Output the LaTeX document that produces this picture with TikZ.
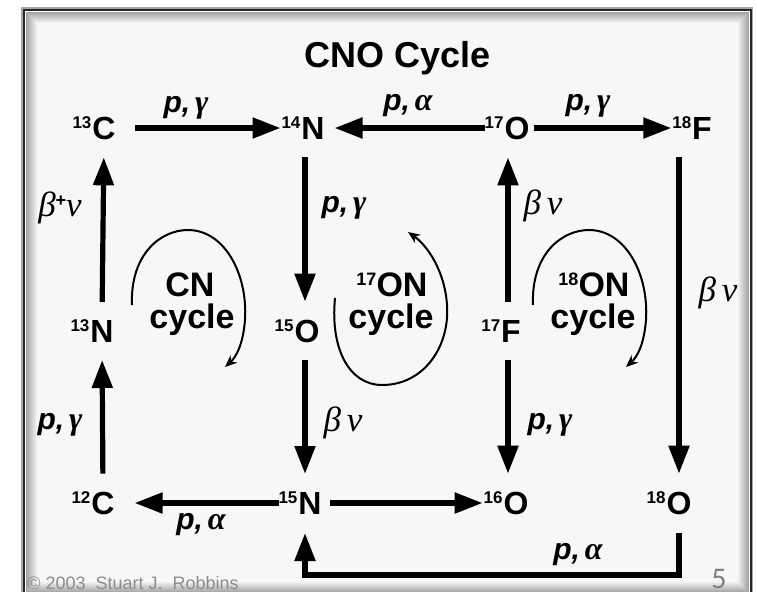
\documentclass[tikz,border=0pt]{standalone}
\usepackage{fontspec}
\setmainfont{Liberation Sans}
\newfontfamily\grk{Liberation Serif}
\newfontfamily\calib{Carlito}
\usetikzlibrary{arrows.meta}
\newcommand{\pg}{{\bfseries\itshape p,}\,{\grk\bfseries\itshape\fontsize{16}{16}\selectfont γ}}
\newcommand{\pa}{{\bfseries\itshape p,}\,{\grk\bfseries\itshape\fontsize{16}{16}\selectfont α}}
\newcommand{\bn}{{\grk\itshape\fontsize{17.5}{17.5}\selectfont β\,ν}}
\newcommand{\bpn}{{\grk\itshape\fontsize{17.5}{17.5}\selectfont β}\raisebox{5pt}{\fontsize{9}{9}\selectfont\bfseries +}{\grk\itshape\fontsize{17.5}{17.5}\selectfont ν}}
\newcommand{\cycsup}[1]{\raisebox{5.8pt}{\fontsize{9}{9}\selectfont #1}}
\begin{document}
\begin{tikzpicture}[x=0.5pt,y=-0.5pt,
  el/.style={font=\fontsize{16}{16}\selectfont\bfseries, inner sep=0pt, outer sep=0pt},
  sup/.style={font=\fontsize{8.5}{8.5}\selectfont\bfseries, inner sep=0pt, outer sep=0pt, anchor=north east},
  lab/.style={font=\fontsize{15}{15}\selectfont, inner sep=0pt},
  arr/.style={line width=2.6pt, -{Triangle[length=14pt,width=10pt]}},
  vshort/.style={shorten <=9pt, shorten >=9pt},
  cyc/.style={line width=1pt, -{Stealth[length=6pt,width=5pt]}},
  cyctext/.style={font=\fontsize{17}{17}\selectfont\bfseries, inner sep=0pt},
  title/.style={font=\fontsize{18}{18}\selectfont\bfseries, inner sep=0pt}]
\useasboundingbox (0,0) rectangle (757,591);
\clip (0,0) rectangle (757,591);
% frame
\fill[white] (0,0) rectangle (757,591);
\fill[gray!70] (21,7) rectangle (753,600);
\fill[black!85] (22.5,8.5) rectangle (751.5,600);
\fill[white] (24.5,10.5) rectangle (749.5,596);
\foreach \i in {0,...,11} {
  \pgfmathtruncatemacro\c{36-3*\i}
  \fill[black!\c] (25.5+\i,11.5+\i) rectangle (748.5-\i,593-\i);
}
% title
\node[title] (title) at (398,58) {CNO Cycle};
% isotopes
\node[el] (C13) at (104,128) {C};
\node[sup] (sC13) at ([xshift=-0.5pt]C13.north west) {13};
\node[el] (N14) at (313,128) {N};
\node[sup] (sN14) at ([xshift=-0.5pt]N14.north west) {14};
\node[el] (O17) at (517,128) {O};
\node[sup] (sO17) at ([xshift=-0.5pt]O17.north west) {17};
\node[el] (F18) at (702,128) {F};
\node[sup] (sF18) at ([xshift=-0.5pt]F18.north west) {18};
\node[el] (N13) at (102,331) {N};
\node[sup] (sN13) at ([xshift=-0.5pt]N13.north west) {13};
\node[el] (O15) at (307,331) {O};
\node[sup] (sO15) at ([xshift=-0.5pt]O15.north west) {15};
\node[el] (F17) at (511,331) {F};
\node[sup] (sF17) at ([xshift=-0.5pt]F17.north west) {17};
\node[el] (C12) at (103,503) {C};
\node[sup] (sC12) at ([xshift=-0.5pt]C12.north west) {12};
\node[el] (N15) at (310,503) {N};
\node[sup] (sN15) at ([xshift=-0.5pt]N15.north west) {15};
\node[el] (O16) at (516,503) {O};
\node[sup] (sO16) at ([xshift=-0.5pt]O16.north west) {16};
\node[el] (O18) at (679,503) {O};
\node[sup] (sO18) at ([xshift=-0.5pt]O18.north west) {18};
% horizontal arrows
\draw[arr, shorten <=9.5pt, shorten >=0.5pt] (C13.east) -- (sN14.west |- N14);
\draw[arr, shorten >=5pt] (sO17.west |- O17) -- (N14.east);
\draw[arr, shorten <=2.5pt, shorten >=0.5pt] (O17.east) -- (sF18.west |- F18);
\draw[arr, shorten >=10pt] (sN15.west |- N15) -- (C12.east);
\draw[arr, shorten <=4pt, shorten >=0.5pt] (N15.east) -- (sO16.west |- O16);
% vertical arrows
\draw[arr, vshort] ([xshift=-4pt]N14.south) -- ([xshift=-1pt]O15.north);
\draw[arr, vshort] ([xshift=-1.5pt]F17.north) -- ([xshift=-4.5pt]O17.south);
\draw[arr, vshort] (F18.south -| O18.north) -- (O18.north);
\draw[arr, vshort] (N13.north) -- (C13.south);
\draw[arr, vshort] (C12.north) -- (N13.south);
\draw[arr, vshort] ([xshift=-1pt]O15.south) -- ([xshift=-2.5pt]N15.north);
\draw[arr, vshort] ([xshift=-1.5pt]F17.south) -- ([xshift=-4pt]O16.north);
% bottom return arrow
\coordinate (bot) at (0,575);
\draw[arr, shorten <=9.5pt, shorten >=9.5pt] (O18.south) -- (O18.south |- bot) -| ([xshift=-2.5pt]N15.south);
% reaction labels
\node[lab] (l1) at (186,108) {\pg};
\node[lab] (l2) at (408,106) {\pa};
\node[lab] (l3) at (588,106) {\pg};
\node[lab] (l4) at (344,208) {\pg};
\node[lab] (l5) at (543,206) {\bn};
\node[lab] (l6) at (60,208) {\bpn};
\node[lab] (l7) at (718,293) {\bn};
\node[lab] (l8) at (60,425) {\pg};
\node[lab] (l9) at (343,423) {\bn};
\node[lab] (l10) at (550,425) {\pg};
\node[lab] (l11) at (201,525) {\pa};
\node[lab] (l12) at (578,555) {\pa};
% cycles
\draw[cyc] (132,305) .. controls (130,255) and (160,230) .. (188,230) .. controls (225,230) and (248,275) .. (245,320) .. controls (243,345) and (236,357) .. (225,367);
\node[cyctext] (cnA) at (190,285) {CN};
\node[cyctext] (cnB) at (192,320) {cycle};
\draw[cyc] (335,298) .. controls (330,350) and (350,385) .. (382,385) .. controls (425,385) and (450,345) .. (447,305) .. controls (445,272) and (428,246) .. (408,232);
\node[cyctext] (onA) at (392,285) {\cycsup{17}ON};
\node[cyctext] (onB) at (391,320) {cycle};
\draw[cyc] (533,305) .. controls (531,255) and (561,230) .. (589,230) .. controls (626,230) and (649,275) .. (646,320) .. controls (644,345) and (637,357) .. (626,367);
\node[cyctext] (o8A) at (594,285) {\cycsup{18}ON};
\node[cyctext] (o8B) at (593,320) {cycle};
% footer
\node[anchor=base west, inner sep=0pt, text=black!45, font=\fontsize{9}{9}\selectfont] (copy) at (27,589) {© 2003\ \ Stuart J.\ \ Robbins};
\node[anchor=base, inner sep=0pt, text=black!50, font=\calib\fontsize{15}{15}\selectfont] (pg) at (719,588) {5};
\end{tikzpicture}
\end{document}
